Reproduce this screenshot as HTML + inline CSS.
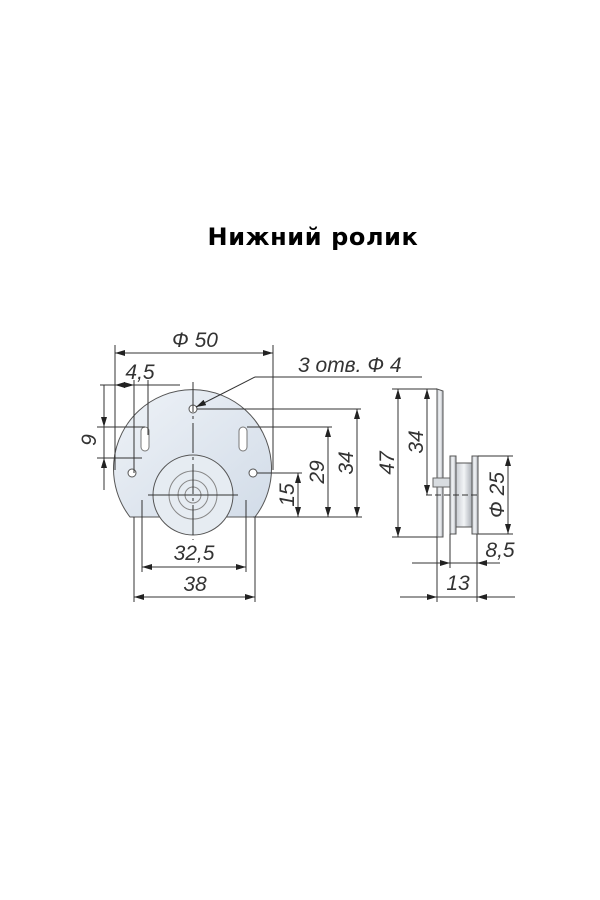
<!DOCTYPE html>
<html><head><meta charset="utf-8"><style>
html,body{margin:0;padding:0;background:#fff;}
svg{display:block}
.d{font-family:"Liberation Sans","DejaVu Sans",sans-serif;font-style:italic;font-size:21px;fill:#333;}
</style></head><body>
<svg width="600" height="900" viewBox="0 0 600 900" xmlns="http://www.w3.org/2000/svg">
<defs>
<marker id="a" viewBox="0 0 10 6" refX="10" refY="3" markerWidth="10" markerHeight="6" orient="auto-start-reverse" markerUnits="userSpaceOnUse"><path d="M0,0L10,3L0,6Z" fill="#222"/></marker>
<linearGradient id="g" x1="0" y1="0" x2="1" y2="1"><stop offset="0" stop-color="#eef2f7"/><stop offset="1" stop-color="#d2dce8"/></linearGradient>
<linearGradient id="r" x1="0" y1="0" x2="1" y2="0"><stop offset="0" stop-color="#c8ccd2"/><stop offset="0.5" stop-color="#f2f4f6"/><stop offset="1" stop-color="#a9aeb5"/></linearGradient>
</defs>
<text x="313" y="245" text-anchor="middle" font-family="'DejaVu Sans','Liberation Sans',sans-serif" font-weight="bold" font-size="24" letter-spacing="0.6" fill="#000">Нижний ролик</text>

<g stroke="#333" stroke-width="1" fill="none">
<path d="M130,517 A79,79 0 1 1 255,517 Z" fill="url(#g)" stroke="#555"/>
<circle cx="193" cy="495" r="40" fill="#e6ecf2" stroke="#555"/>
<circle cx="193" cy="495" r="24" stroke="#888"/>
<circle cx="193" cy="495" r="15" stroke="#888"/>
<circle cx="193" cy="495" r="8" stroke="#888"/>
<rect x="141" y="427" width="8" height="24" rx="4" fill="#fff" stroke="#777"/>
<rect x="239" y="427" width="8" height="24" rx="4" fill="#fff" stroke="#777"/>
<circle cx="132" cy="473" r="4" fill="#fff" stroke="#555"/>
<circle cx="253" cy="473" r="4" fill="#fff" stroke="#555"/>
<circle cx="193" cy="409" r="4" fill="#fff" stroke="#555"/>
<line x1="193" y1="382" x2="193" y2="540" stroke-dasharray="30,4,3,4"/>
<line x1="148" y1="495" x2="238" y2="495"/>
<line x1="115" y1="345" x2="115" y2="470"/><line x1="273" y1="345" x2="273" y2="470"/>
<line x1="115" y1="353" x2="273" y2="353" marker-start="url(#a)" marker-end="url(#a)"/>
<line x1="134" y1="380" x2="134" y2="473"/><line x1="148" y1="380" x2="148" y2="435"/>
<line x1="100" y1="385" x2="180" y2="385"/>
<line x1="115" y1="385" x2="134" y2="385" marker-start="url(#a)" marker-end="url(#a)"/>
<line x1="97" y1="427" x2="145" y2="427"/><line x1="97" y1="458" x2="142" y2="458"/>
<line x1="104" y1="385" x2="104" y2="490"/>
<line x1="104" y1="410" x2="104" y2="427" marker-end="url(#a)"/>
<line x1="104" y1="475" x2="104" y2="458" marker-end="url(#a)"/>
<line x1="253" y1="517" x2="362" y2="517"/>
<line x1="257" y1="473" x2="302" y2="473"/>
<line x1="247" y1="427" x2="332" y2="427"/>
<line x1="197" y1="409" x2="361" y2="409"/>
<line x1="298" y1="473" x2="298" y2="517" marker-start="url(#a)" marker-end="url(#a)"/>
<line x1="328" y1="427" x2="328" y2="517" marker-start="url(#a)" marker-end="url(#a)"/>
<line x1="357" y1="409" x2="357" y2="517" marker-start="url(#a)" marker-end="url(#a)"/>
<line x1="255" y1="377" x2="196" y2="407" marker-end="url(#a)"/>
<line x1="255" y1="377" x2="422" y2="377"/>
<line x1="142" y1="500" x2="142" y2="572"/><line x1="246" y1="500" x2="246" y2="572"/>
<line x1="134" y1="517" x2="134" y2="602"/><line x1="255" y1="517" x2="255" y2="602"/>
<line x1="142" y1="567" x2="246" y2="567" marker-start="url(#a)" marker-end="url(#a)"/>
<line x1="134" y1="597" x2="255" y2="597" marker-start="url(#a)" marker-end="url(#a)"/>

<path d="M437,389 L443,391 L443,537 L437,537 Z" fill="url(#r)" stroke="#555"/>
<rect x="433" y="478" width="17" height="9" fill="#d8dce0" stroke="#666"/>
<rect x="450" y="456" width="6" height="78" fill="url(#r)" stroke="#555"/>
<rect x="456" y="463" width="16" height="64" fill="url(#r)" stroke="#555"/>
<rect x="472" y="456" width="6" height="78" fill="url(#r)" stroke="#555"/>
<line x1="426" y1="495" x2="480" y2="495" stroke-dasharray="6,3"/>
<line x1="392" y1="389" x2="437" y2="389"/><line x1="392" y1="537" x2="437" y2="537"/>
<line x1="398" y1="389" x2="398" y2="537" marker-start="url(#a)" marker-end="url(#a)"/>
<line x1="427" y1="389" x2="427" y2="495" marker-start="url(#a)" marker-end="url(#a)"/>
<line x1="478" y1="456" x2="513" y2="456"/><line x1="478" y1="534" x2="513" y2="534"/>
<line x1="508" y1="456" x2="508" y2="534" marker-start="url(#a)" marker-end="url(#a)"/>
<line x1="437" y1="537" x2="437" y2="602"/><line x1="450" y1="534" x2="450" y2="568"/><line x1="477" y1="534" x2="477" y2="602"/>
<line x1="412" y1="563" x2="500" y2="563"/>
<line x1="425" y1="563" x2="450" y2="563" marker-end="url(#a)"/>
<line x1="500" y1="563" x2="477" y2="563" marker-end="url(#a)"/>
<line x1="400" y1="597" x2="515" y2="597"/>
<line x1="415" y1="597" x2="437" y2="597" marker-end="url(#a)"/>
<line x1="500" y1="597" x2="477" y2="597" marker-end="url(#a)"/>
</g>

<g class="d">
<text x="195" y="347" text-anchor="middle">Ф 50</text>
<text x="140" y="379" text-anchor="middle">4,5</text>
<text transform="translate(96,440) rotate(-90)" text-anchor="middle">9</text>
<text x="298" y="372">3 отв. Ф 4</text>
<text transform="translate(294,495) rotate(-90)" text-anchor="middle">15</text>
<text transform="translate(324,472) rotate(-90)" text-anchor="middle">29</text>
<text transform="translate(353,463) rotate(-90)" text-anchor="middle">34</text>
<text transform="translate(394,463) rotate(-90)" text-anchor="middle">47</text>
<text transform="translate(423,442) rotate(-90)" text-anchor="middle">34</text>
<text transform="translate(504,495) rotate(-90)" text-anchor="middle">Ф 25</text>
<text x="194" y="560" text-anchor="middle">32,5</text>
<text x="195" y="591" text-anchor="middle">38</text>
<text x="500" y="557" text-anchor="middle">8,5</text>
<text x="458" y="590" text-anchor="middle">13</text>
</g>
</svg>
</body></html>
